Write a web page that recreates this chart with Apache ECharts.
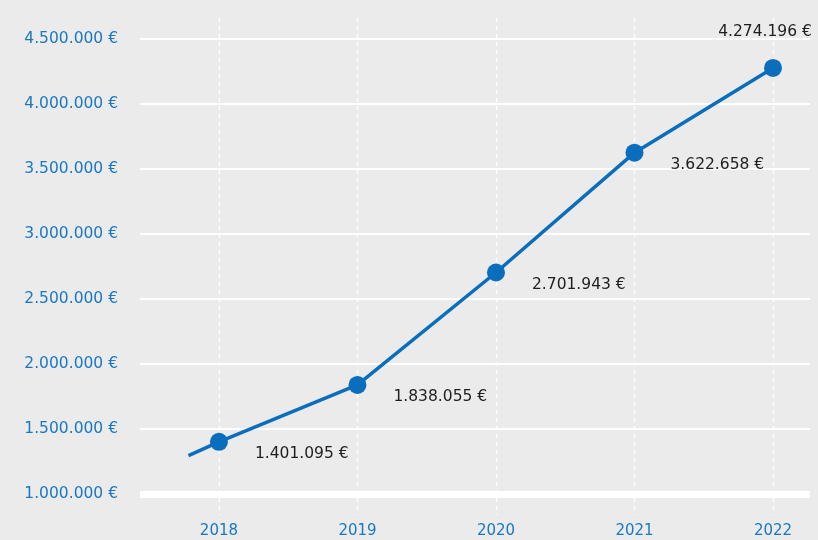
<!DOCTYPE html>
<html>
<head>
<meta charset="utf-8">
<script src="https://cdn.jsdelivr.net/npm/echarts@6/dist/echarts.min.js"></script>
<style>
  html, body { margin: 0; padding: 0; background: #ebebeb; }
  #main { width: 818px; height: 540px; }
</style>
</head>
<body>
<div id="main"></div>
<script>
// jaren en omzet
const years = [2018, 2019, 2020, 2021, 2022];
const revenue = [1401095, 1838055, 2701943, 3622658, 4274196];
// lijn loopt iets door links van 2018
const leadIn = [2017.78, 1295000];
const yTicks = [1000000, 1500000, 2000000, 2500000, 3000000, 3500000, 4000000, 4500000];

const blue = '#0a6ebd';
const font = 'DejaVu Sans';
const fmt = v => Math.round(v).toString().replace(/\B(?=(\d{3})+(?!\d))/g, '.') + ' €';

const myChart = echarts.init(document.getElementById('main'));
const lineData = [{value: leadIn, symbol: 'none', label: {show: false}}];
revenue.forEach((v, i) => {
  const last = i === revenue.length - 1;
  lineData.push({
    value: [years[i], v],
    label: last
      ? {position: 'top', offset: [-8, -14]}
      : {position: 'right', offset: [22, 12]}
  });
});

myChart.setOption({
  backgroundColor: '#ebebeb',
  animation: false,
  grid: [
    {left: 140, right: 8, top: 38.5, bottom: 46},
    {left: 140, right: 8, top: 18, bottom: 25}
  ],
  xAxis: [
    {
      type: 'value', gridIndex: 0, min: 2017.43, max: 2022.267,
      axisLine: {show: true, lineStyle: {color: '#ffffff', width: 7, cap: 'butt'}},
      axisTick: {show: false, customValues: years},
      splitLine: {show: false},
      axisLabel: {
        customValues: years, margin: 30, color: '#1a78c2',
        fontFamily: font, fontSize: 15, formatter: v => String(v)
      }
    },
    {
      type: 'value', gridIndex: 1, min: 2017.43, max: 2022.267,
      axisLine: {show: false}, axisLabel: {show: false},
      axisTick: {show: false, customValues: years},
      splitLine: {show: true, lineStyle: {color: '#ffffff', type: [4, 4], width: 1.3}}
    }
  ],
  yAxis: [
    {
      type: 'value', gridIndex: 0, min: 1000000, max: 4500000, interval: 500000,
      axisLine: {show: false}, axisTick: {show: false},
      splitLine: {lineStyle: {color: '#ffffff', width: 2}},
      axisLabel: {
        margin: 22, color: '#1a78c2', fontFamily: font, fontSize: 15.5,
        formatter: v => yTicks.includes(v) ? fmt(v) : ''
      }
    },
    {
      type: 'value', gridIndex: 1, min: 0, max: 1, show: false
    }
  ],
  series: [
    {
      type: 'line', xAxisIndex: 0, yAxisIndex: 0,
      data: lineData,
      symbol: 'circle', symbolSize: 18,
      lineStyle: {color: blue, width: 3.5},
      itemStyle: {color: blue},
      label: {
        show: true, color: '#1e1e1e', fontFamily: font, fontSize: 15.5,
        formatter: p => fmt(p.value[1])
      },
      z: 5
    }
  ]
});
</script>
</body>
</html>
